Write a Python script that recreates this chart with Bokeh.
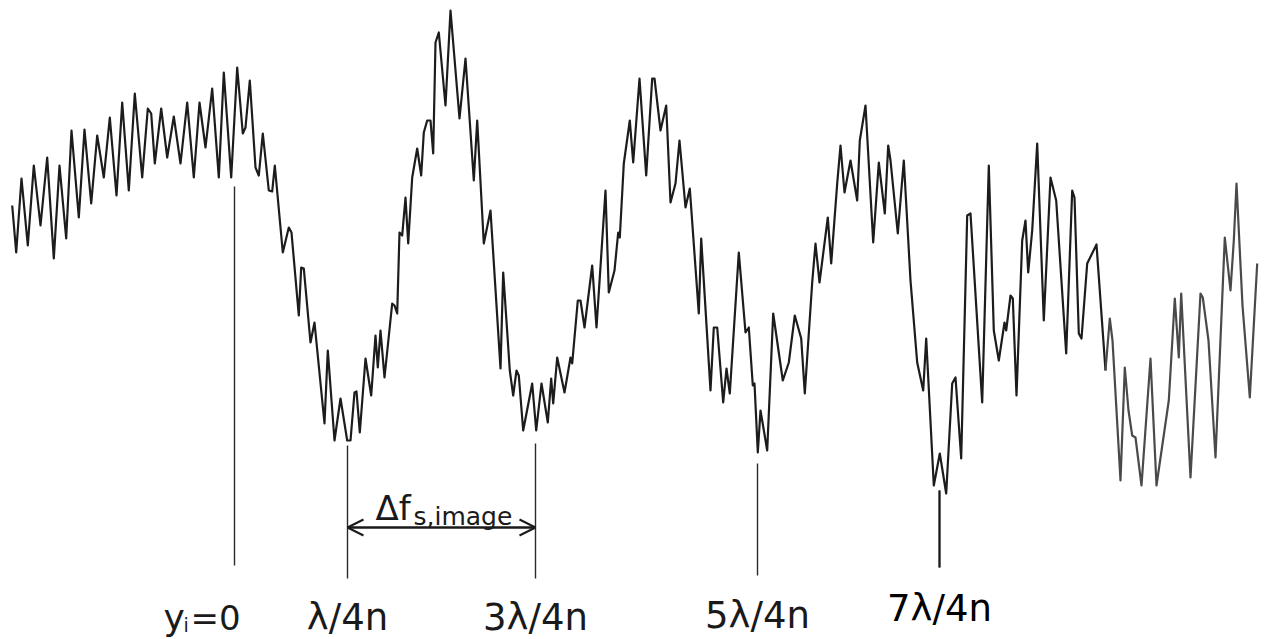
from bokeh.plotting import figure
from bokeh.models import Range1d, ColumnDataSource, Arrow, OpenHead
from bokeh.core.properties import value
from bokeh.embed import file_html
from bokeh.resources import INLINE

# Scan position (horizontal) and detector signal (vertical, plotted downward = lower intensity)
position = [11.7, 15.7, 21, 27.3, 33.3, 40, 46.7, 53.3, 59, 65.7, 71, 78.3, 84, 90.7, 96.7, 103.3,
            109.3, 116, 121.7, 128.3, 134.3, 141.7, 147.3, 150.7, 154.3, 160.7, 166.7, 173.3, 180,
            186.7, 193.3, 199, 205, 211.7, 218.3, 223.3, 230.7, 236.7, 242.3, 245, 249.3, 255, 258.3,
            262.3, 268.3, 271.7, 274.3, 282.3, 288.3, 291, 298.3, 300.7, 303.3, 310, 314, 324, 327.3,
            334, 340, 346.7, 350, 354, 356, 359.3, 365, 370.7, 375, 377.3, 380, 384, 391.7, 394, 396.7,
            399, 401.7, 405, 407.7, 411.7, 416.7, 420.7, 423.3, 426.7, 430, 432.7, 435, 438.3, 445, 450,
            459, 465, 473.3, 476.7, 483.3, 490, 500, 502.7,
            509.3, 512.7, 516, 518.3, 522.7, 531.7, 535.7, 541, 547.3, 550.7, 552.7, 556.7, 564, 570,
            571.7, 577.3, 580, 584, 591.7, 596, 605, 608.3, 614, 617.7, 619.3, 623.3, 629.3, 632.7, 639,
            645.7, 651.7, 654, 660, 665.7, 670, 675, 679, 685, 689.3, 698.3, 700.7, 710, 713.3, 716.7,
            722.7, 726, 729.3, 738.3, 745, 748.3,
            752.3, 754, 757.3, 760, 766.7, 772.7, 782.3, 788.3, 794.3, 800.7, 804.3, 811.7, 815, 819,
            827.3, 830.7, 836.7, 840, 844, 850, 856.7, 859.3, 865, 872.7, 878.3, 884.3, 887.7, 890,
            897.3, 903.3, 910, 916.7, 922.7, 925.7, 933.3, 939.3, 945.7, 951.7, 955, 960.7, 966.7, 970,
            981.7, 988.3,
            993.3, 998.3, 1004, 1005.7, 1010, 1012.3, 1016, 1021.7, 1025, 1027.7, 1031.7, 1036.7, 1043.3,
            1050, 1055.7, 1065.7, 1071.7, 1074, 1078.3, 1081, 1086.7, 1096, 1105, 1109.3, 1112, 1120,
            1124.3, 1128, 1131.7, 1135, 1141, 1150, 1156, 1168.3, 1174.3, 1178.3, 1180.7, 1190, 1200,
            1202.3, 1208, 1215, 1224.3, 1230, 1233.3, 1236, 1242, 1249.3, 1256.7]

signal = [205, 252, 178, 245, 165, 225, 157, 258, 165, 238, 130, 217, 129, 203, 135, 177,
          117, 195, 102, 190, 93, 177, 108, 113, 163, 108, 157, 116, 163,
          102, 177, 102, 147, 88, 177, 72, 177, 67, 133, 127, 80, 167, 175,
          133, 190, 191, 165, 252, 227, 232, 315, 267, 268, 342, 322, 423, 350,
          440, 398, 440, 440, 392, 391, 432, 358, 395, 335, 367, 330, 377, 303, 305, 313,
          232, 235, 197, 243, 177, 148, 175, 132, 120, 120, 153, 42, 32, 105, 10,
          118, 58, 180, 120, 243, 210, 368, 272,
          370, 395, 370, 375, 430, 383, 430, 383, 422, 378, 403, 357, 392, 357,
          363, 300, 300, 327, 265, 327, 190, 292, 270, 232, 237, 163, 120, 162, 78,
          175, 78, 78, 130, 105, 202, 183, 140, 207, 188, 313, 238, 390, 327, 327,
          402, 368, 393, 252, 332, 327,
          385, 383, 452, 410, 450, 313, 380, 362, 315, 338, 393, 282, 243, 282,
          217, 263, 183, 145, 192, 160, 200, 140, 105, 242, 162, 213, 145, 160,
          233, 160, 280, 362, 390, 338, 485, 453, 493, 383, 377, 458, 215, 213,
          402, 165,
          330, 360, 322, 330, 295, 298, 395, 240, 220, 272, 230, 143, 320,
          177, 200, 353, 190, 197, 333, 338, 263, 244, 370, 318, 340, 480,
          367, 410, 435, 437, 485, 358, 485, 400, 298, 357, 293, 477, 293,
          297, 340, 457, 237, 290, 240, 183, 305, 397, 263]

# Marked positions
marker_labels = ["λ/4n", "3λ/4n", "5λ/4n", "7λ/4n"]
marker_x = [234, 347, 535, 757, 939]
marker_top = [186, 445, 443, 463, 490]
marker_bottom = [565, 578, 578, 575, 567]

p = figure(width=1265, height=639, output_backend="svg", toolbar_location=None,
           x_range=Range1d(0, 1265), y_range=Range1d(639, 0), min_border=0)
p.axis.visible = False
p.grid.visible = False
p.outline_line_color = None
p.background_fill_color = "white"
p.border_fill_color = "white"

split = next(i for i, v in enumerate(position) if v >= 1105)
p.line(position[:split + 1], signal[:split + 1], line_color="#1c1c1c", line_width=2.2, line_join="round")
p.line(position[split:], signal[split:], line_color="#4a4a4a", line_width=2.2, line_join="round")

p.segment(x0=marker_x, y0=marker_top, x1=marker_x, y1=marker_bottom,
          line_color="#2a2a2a", line_width=1.4)
p.segment(x0=marker_x[4:], y0=marker_top[4:], x1=marker_x[4:], y1=marker_bottom[4:],
          line_color="#1a1a1a", line_width=2.2)

font = value("DejaVu Sans")
ink = "#1a1a1a"

# y_i = 0 label, built from its parts
p.text(x=[marker_x[0] - 71], y=[617], text=["y"], text_font=font, text_font_size="36px",
       text_align="left", text_baseline="alphabetic", text_color=ink)
p.text(x=[marker_x[0] - 51], y=[624], text=["i"], text_font=font, text_font_size="19px",
       text_align="left", text_baseline="alphabetic", text_color=ink)
p.text(x=[marker_x[0] - 44], y=[617], text=["=0"], text_font=font, text_font_size="34px",
       text_align="left", text_baseline="alphabetic", text_color=ink)

lab = ColumnDataSource(dict(x=marker_x[1:], y=[617, 617, 615, 608], t=marker_labels,
                            c=[ink, ink, ink, "#000000"]))
p.text(x="x", y="y", text="t", source=lab, text_font=font, text_font_size="37px",
       text_align="center", text_baseline="alphabetic", text_color="c")

# Image fringe spacing annotation
p.add_layout(Arrow(start=OpenHead(size=16, line_width=2, line_color=ink),
                   end=OpenHead(size=16, line_width=2, line_color=ink),
                   x_start=marker_x[1], y_start=527, x_end=marker_x[2], y_end=527,
                   line_width=2.5, line_color=ink))
p.text(x=[375], y=[507], text=["Δf"], text_font=font, text_font_size="34px",
       text_align="left", text_baseline="alphabetic", text_color=ink)
p.text(x=[413], y=[516], text=["s,image"], text_font=font, text_font_size="25px",
       text_align="left", text_baseline="alphabetic", text_color=ink)

open("out.html", "w").write(file_html(p, INLINE))
